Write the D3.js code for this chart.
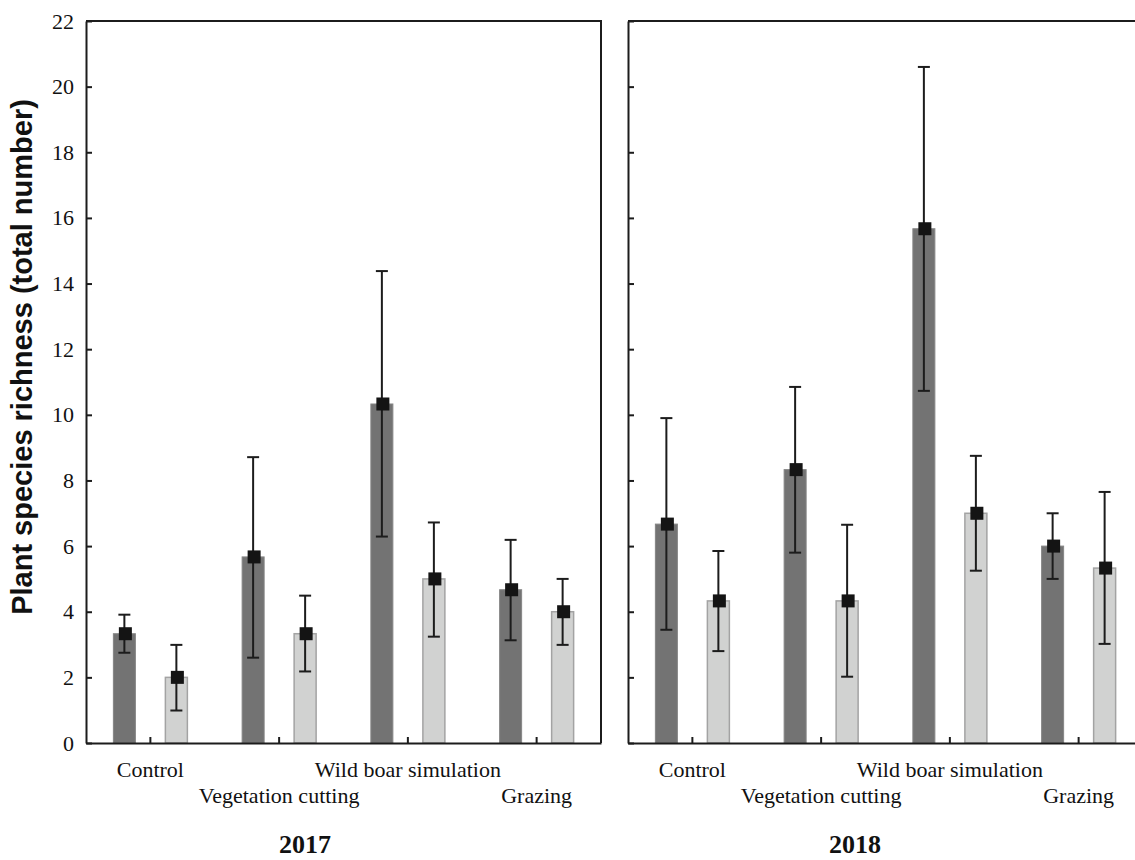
<!DOCTYPE html>
<html>
<head>
<meta charset="utf-8">
<script src="https://cdn.jsdelivr.net/npm/d3@7"></script>
<style>
  html, body { margin: 0; padding: 0; background: #fff; }
  svg { display: block; }
</style>
</head>
<body>
<script>
// ---- Data ----
const categories = ["Control", "Vegetation cutting", "Wild boar simulation", "Grazing"];
const years = ["2017", "2018"];
const seriesNames = ["Dark", "Light"];
const yTicks = [0, 2, 4, 6, 8, 10, 12, 14, 16, 18, 20, 22];

const dark2017   = [3.33, 5.67, 10.33, 4.67];
const dark2017Lo = [2.75, 2.60, 6.29, 3.13];
const dark2017Hi = [3.91, 8.71, 14.38, 6.19];
const light2017   = [2.00, 3.33, 5.00, 4.00];
const light2017Lo = [0.99, 2.18, 3.24, 2.99];
const light2017Hi = [2.99, 4.49, 6.72, 5.00];

const dark2018   = [6.67, 8.33, 15.67, 6.00];
const dark2018Lo = [3.45, 5.80, 10.73, 5.00];
const dark2018Hi = [9.90, 10.85, 20.60, 7.00];
const light2018   = [4.33, 4.33, 7.00, 5.33];
const light2018Lo = [2.80, 2.02, 5.25, 3.02];
const light2018Hi = [5.85, 6.65, 8.75, 7.65];

const panelData = {
  "2017": [
    {s: "Dark", v: dark2017, lo: dark2017Lo, hi: dark2017Hi},
    {s: "Light", v: light2017, lo: light2017Lo, hi: light2017Hi}
  ],
  "2018": [
    {s: "Dark", v: dark2018, lo: dark2018Lo, hi: dark2018Hi},
    {s: "Light", v: light2018, lo: light2018Lo, hi: light2018Hi}
  ]
};

// ---- Layout ----
const W = 1135, H = 860;
const topY = 21, bottomY = 743, panelW = 515;
const panelX = {"2017": 86, "2018": 628};
const yearLabelX = {"2017": 305, "2018": 855};
const serif = "'Liberation Serif', 'Times New Roman', Times, serif";
const sans = "'Liberation Sans', Arial, Helvetica, sans-serif";
const ink = "#1c1c1c";

const svg = d3.select("body").append("svg")
  .attr("width", W).attr("height", H)
  .attr("viewBox", `0 0 ${W} ${H}`);

const y = d3.scaleLinear().domain([0, 22]).range([bottomY, topY]);
const x = d3.scaleBand().domain(categories).range([0, panelW]).padding(0);
const sub = d3.scalePoint().domain(seriesNames).range([-26, 26]);
const barW = 22;
const fills = {"Dark": "#737373", "Light": "#d1d2d1"};
const strokes = {"Dark": "#858585", "Light": "#a3a3a3"};

years.forEach((yr, pi) => {
  const g = svg.append("g").attr("transform", `translate(${panelX[yr]},0)`);

  // frame (top and right)
  g.append("path")
    .attr("d", `M0,${topY}H${panelW}V${bottomY}`)
    .attr("fill", "none").attr("stroke", ink).attr("stroke-width", 2);

  // bars
  panelData[yr].forEach(ser => {
    const cx = i => x(categories[i]) + x.bandwidth() / 2 + sub(ser.s);
    g.append("g").selectAll("rect").data(ser.v).join("rect")
      .attr("x", (d, i) => cx(i) - barW / 2)
      .attr("y", d => y(d))
      .attr("width", barW)
      .attr("height", d => y(0) - y(d))
      .attr("fill", fills[ser.s])
      .attr("stroke", strokes[ser.s])
      .attr("stroke-width", ser.s === "Light" ? 1.5 : 1);

    const eg = g.append("g").attr("stroke", ink).attr("stroke-width", 2);
    ser.v.forEach((d, i) => {
      const c = cx(i);
      eg.append("line").attr("x1", c).attr("x2", c).attr("y1", y(ser.lo[i])).attr("y2", y(ser.hi[i]));
      eg.append("line").attr("x1", c - 6).attr("x2", c + 6).attr("y1", y(ser.lo[i])).attr("y2", y(ser.lo[i]));
      eg.append("line").attr("x1", c - 6).attr("x2", c + 6).attr("y1", y(ser.hi[i])).attr("y2", y(ser.hi[i]));
    });
    g.append("g").selectAll("rect").data(ser.v).join("rect")
      .attr("x", (d, i) => cx(i) + 1 - 6.5)
      .attr("y", d => y(d) - 6.5)
      .attr("width", 13).attr("height", 13)
      .attr("fill", "#141414");
  });

  // y axis
  const yAxis = d3.axisLeft(y).tickValues(yTicks).tickSize(-6).tickSizeOuter(0).tickPadding(12);
  if (pi > 0) yAxis.tickFormat("");
  const ya = g.append("g").call(yAxis);
  ya.select(".domain").attr("stroke", ink).attr("stroke-width", 2);
  ya.selectAll(".tick line").attr("stroke", ink).attr("stroke-width", 2);
  ya.selectAll(".tick text").attr("font-family", serif).attr("font-size", 22).attr("fill", "#111");

  // x axis
  const xAxis = d3.axisBottom(x).tickSize(-6).tickSizeOuter(0).tickFormat("");
  const xa = g.append("g").attr("transform", `translate(0,${bottomY})`).call(xAxis);
  xa.select(".domain").attr("stroke", ink).attr("stroke-width", 2);
  xa.selectAll(".tick line").attr("stroke", ink).attr("stroke-width", 2);

  // category labels, alternating rows
  g.append("g").selectAll("text").data(categories).join("text")
    .attr("x", d => x(d) + x.bandwidth() / 2)
    .attr("y", (d, i) => i % 2 === 0 ? 777 : 803)
    .attr("text-anchor", "middle")
    .attr("font-family", serif).attr("font-size", 22).attr("fill", "#111")
    .text(d => d);

  // year label
  svg.append("text")
    .attr("x", yearLabelX[yr]).attr("y", 853)
    .attr("text-anchor", "middle")
    .attr("font-family", serif).attr("font-size", 26).attr("font-weight", "bold").attr("fill", "#111")
    .text(yr);
});

// y title
svg.append("text")
  .attr("transform", "translate(32,357) rotate(-90)")
  .attr("text-anchor", "middle")
  .attr("font-family", sans).attr("font-size", 29).attr("font-weight", "bold").attr("fill", "#111")
  .text("Plant species richness (total number)");
</script>
</body>
</html>
